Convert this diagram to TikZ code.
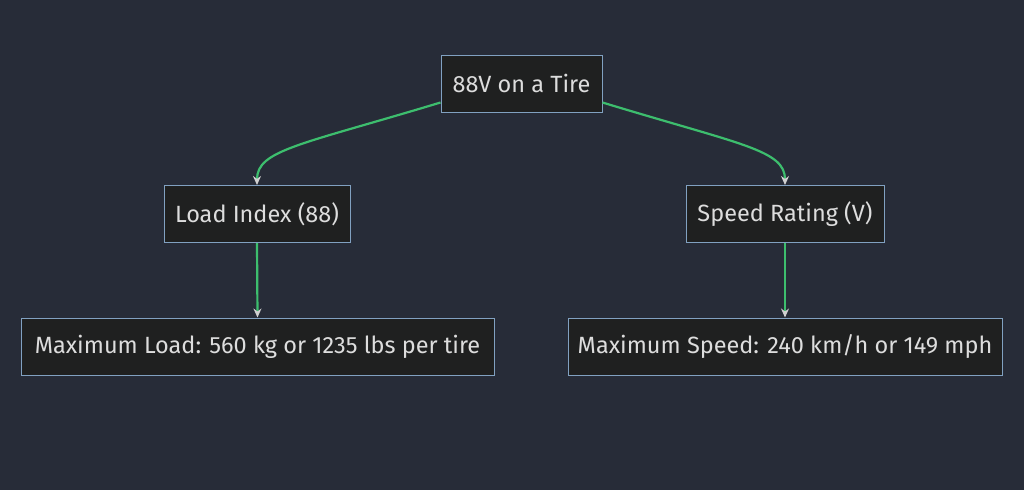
\documentclass[tikz,border=0pt]{standalone}
\usepackage{fontspec}
\setmainfont{Fira Sans}
\usetikzlibrary{arrows.meta}
\definecolor{bg}{HTML}{272C38}
\definecolor{nodefill}{HTML}{1F2020}
\definecolor{nodeline}{HTML}{81A1C1}
\definecolor{edge}{HTML}{3DBE6E}
\definecolor{tip}{HTML}{D0D0D0}
\definecolor{txt}{HTML}{DDDDDD}
\begin{document}
\begin{tikzpicture}[x=1pt,y=-1pt,
  box/.style={draw=nodeline,fill=nodefill,line width=1pt,text=txt,inner sep=0pt,
    minimum height=57pt,font=\fontsize{23.5}{27}\selectfont},
  conn/.style={draw=edge,line width=2.2pt,-{Stealth[length=9pt,width=8pt,color=tip]}}]
\fill[bg] (0,0) rectangle (1024,490);
\useasboundingbox (0,0) rectangle (1024,490);
\node[box,minimum width=161pt] (top) at (521.5,83.5) {88V on a Tire};
\node[box,minimum width=186pt] (load) at (257,214) {Load Index (88)};
\node[box,minimum width=198pt] (speed) at (785,214) {Speed Rating (V)};
\node[box,minimum width=473pt] (maxload) at (257.5,346.5) {Maximum Load: 560 kg or 1235 lbs per tire};
\node[box,minimum width=434pt] (maxspeed) at (785,346.5) {Maximum Speed: 240 km/h or 149 mph};
\draw[conn] ([yshift=-19pt]top.west) .. controls (300,145) and (257,150) .. (load.north);
\draw[conn] ([yshift=-19pt]top.east) .. controls (742,145) and (785,150) .. (speed.north);
\draw[conn] (load.south) -- (maxload.north);
\draw[conn] (speed.south) -- (maxspeed.north);
\end{tikzpicture}
\end{document}
